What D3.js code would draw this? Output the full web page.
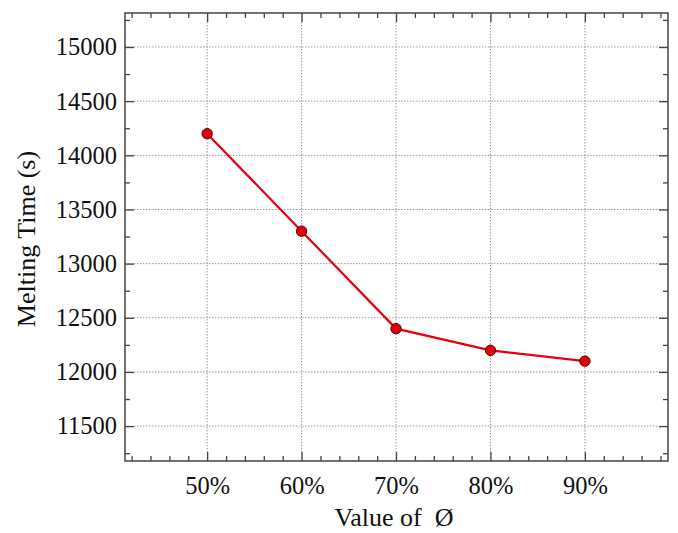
<!DOCTYPE html>
<html>
<head>
<meta charset="utf-8">
<script src="https://cdn.jsdelivr.net/npm/d3@7"></script>
<style>
  html, body { margin: 0; padding: 0; background: #fff; }
  svg { display: block; }
  text { font-family: "Liberation Serif", "Times New Roman", serif; fill: #111; }
</style>
</head>
<body>
<svg id="chart" width="678" height="533"></svg>
<script>
// Melting time versus the value of Ø
const phiValues = [50, 60, 70, 80, 90];
const meltingTimes = [14200, 13300, 12400, 12200, 12100];
const xTickValues = [50, 60, 70, 80, 90];
const xTickLabels = ["50%", "60%", "70%", "80%", "90%"];
const yTickValues = [11500, 12000, 12500, 13000, 13500, 14000, 14500, 15000];
const xMinorTicks = d3.range(42, 99, 2);
const yMinorTicks = d3.range(11250, 15301, 250);

const svg = d3.select("#chart");
const plot = { left: 125, top: 13, right: 668, bottom: 461 };

const x = d3.scaleLinear().domain([41.3, 98.8]).range([plot.left, plot.right]);
const y = d3.scaleLinear().domain([11178, 15314]).range([plot.bottom, plot.top]);

const frameColor = "#444";
const labelSize = 24.5;

// dotted grid at the major ticks
const grid = svg.append("g");
grid.selectAll("line.gx").data(xTickValues).join("line")
  .attr("x1", d => x(d)).attr("x2", d => x(d))
  .attr("y1", plot.top).attr("y2", plot.bottom)
  .attr("stroke", "#999").attr("stroke-width", 1).attr("stroke-dasharray", "1.5,1.5");
grid.selectAll("line.gy").data(yTickValues).join("line")
  .attr("x1", plot.left).attr("x2", plot.right)
  .attr("y1", d => y(d)).attr("y2", d => y(d))
  .attr("stroke", "#999").attr("stroke-width", 1).attr("stroke-dasharray", "1.5,1.5");

// inward ticks on all four sides
const majorLen = 9, minorLen = 5;
function ticks(g, axisGen) {
  g.call(axisGen);
  g.select(".domain").remove();
  g.selectAll(".tick line").attr("stroke", frameColor).attr("stroke-width", 1.3);
}
const minorX = xMinorTicks.filter(v => !xTickValues.includes(v));
const minorY = yMinorTicks.filter(v => !yTickValues.includes(v));

// bottom axis with labels
const gBottom = svg.append("g").attr("transform", `translate(0,${plot.bottom})`);
ticks(gBottom, d3.axisBottom(x).tickValues(xTickValues)
  .tickFormat((d, i) => xTickLabels[i]).tickSizeInner(-majorLen).tickPadding(16));
gBottom.attr("font-size", null).attr("font-family", null);
gBottom.selectAll(".tick text").style("font-size", labelSize + "px")
  .style("font-family", "'Liberation Serif', serif").attr("fill", "#111");
const gBottomMinor = svg.append("g").attr("transform", `translate(0,${plot.bottom})`);
ticks(gBottomMinor, d3.axisBottom(x).tickValues(minorX).tickFormat("").tickSizeInner(-minorLen));

// top axis
const gTop = svg.append("g").attr("transform", `translate(0,${plot.top})`);
ticks(gTop, d3.axisTop(x).tickValues(xTickValues).tickFormat("").tickSizeInner(-majorLen));
const gTopMinor = svg.append("g").attr("transform", `translate(0,${plot.top})`);
ticks(gTopMinor, d3.axisTop(x).tickValues(minorX).tickFormat("").tickSizeInner(-minorLen));

// left axis with labels
const gLeft = svg.append("g").attr("transform", `translate(${plot.left},0)`);
ticks(gLeft, d3.axisLeft(y).tickValues(yTickValues).tickFormat(d3.format("d"))
  .tickSizeInner(-majorLen).tickPadding(8));
gLeft.attr("font-size", null).attr("font-family", null);
gLeft.selectAll(".tick text").style("font-size", labelSize + "px")
  .style("font-family", "'Liberation Serif', serif").attr("fill", "#111");
const gLeftMinor = svg.append("g").attr("transform", `translate(${plot.left},0)`);
ticks(gLeftMinor, d3.axisLeft(y).tickValues(minorY).tickFormat("").tickSizeInner(-minorLen));

// right axis
const gRight = svg.append("g").attr("transform", `translate(${plot.right},0)`);
ticks(gRight, d3.axisRight(y).tickValues(yTickValues).tickFormat("").tickSizeInner(-majorLen));
const gRightMinor = svg.append("g").attr("transform", `translate(${plot.right},0)`);
ticks(gRightMinor, d3.axisRight(y).tickValues(minorY).tickFormat("").tickSizeInner(-minorLen));

// frame
svg.append("rect")
  .attr("x", plot.left).attr("y", plot.top)
  .attr("width", plot.right - plot.left).attr("height", plot.bottom - plot.top)
  .attr("fill", "none").attr("stroke", frameColor).attr("stroke-width", 1.5);

// data line and markers
const points = phiValues.map((p, i) => ({ p, t: meltingTimes[i] }));
svg.append("path").datum(points)
  .attr("d", d3.line().x(d => x(d.p)).y(d => y(d.t)))
  .attr("fill", "none").attr("stroke", "#e3000f").attr("stroke-width", 2.2);
svg.append("g").selectAll("circle").data(points).join("circle")
  .attr("cx", d => x(d.p)).attr("cy", d => y(d.t)).attr("r", 5.2)
  .attr("fill", "#e0000b").attr("stroke", "#5a0000").attr("stroke-width", 1);

// axis titles
svg.append("text")
  .attr("x", 394).attr("y", 526)
  .attr("text-anchor", "middle").style("font-size", "26px")
  .text("Value of \u00a0\u00d8");
svg.append("text")
  .attr("transform", `translate(35,${(plot.top + plot.bottom) / 2 + 2}) rotate(-90)`)
  .attr("text-anchor", "middle").style("font-size", "26px")
  .text("Melting Time (s)");
</script>
</body>
</html>
